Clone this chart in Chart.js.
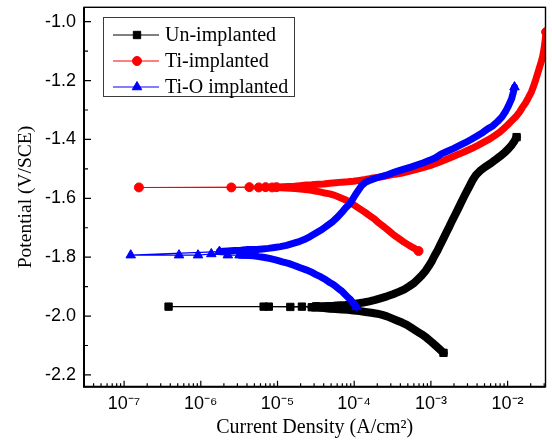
<!DOCTYPE html>
<html>
<head>
<meta charset="utf-8">
<script src="https://cdn.jsdelivr.net/npm/chart.js@4.4.1/dist/chart.umd.min.js"></script>
<style>
  html, body { margin: 0; padding: 0; background: #fff; }
  #wrap { width: 552px; height: 441px; }
</style>
</head>
<body>
<div id="wrap"><canvas id="tafel" width="552" height="441"></canvas></div>
<script>
'use strict';

// polarisation scans: current (A/cm2) vs potential (V/SCE),
// each list runs from the cathodic end, through Ecorr, to the anodic end
const unCurrent = [
  1.46e-3, 1.29e-3, 1.15e-3, 1.02e-3, 8.8e-4, 7.6e-4, 6.5e-4, 5.6e-4, 4.86e-4, 4.2e-4,
  3.6e-4, 3.1e-4, 2.68e-4, 2.32e-4, 2.0e-4, 1.67e-4, 1.4e-4, 1.17e-4, 9.8e-5, 8.2e-5,
  6.9e-5, 5.75e-5, 4.8e-5, 4.0e-5, 3.37e-5, 2.9e-5, 2.8e-5, 1.47e-5, 6.6e-6, 3.8e-7,
  7.7e-6, 2.08e-5, 3.18e-5, 3.8e-5, 4.5e-5, 5.4e-5, 6.5e-5, 7.7e-5, 9.2e-5, 1.1e-4,
  1.32e-4, 1.57e-4, 1.88e-4, 2.25e-4, 2.68e-4, 3.2e-4, 3.8e-4, 4.45e-4, 5.2e-4, 6.0e-4,
  6.7e-4, 7.6e-4, 8.5e-4, 9.3e-4, 1.02e-3, 1.11e-3, 1.22e-3, 1.33e-3, 1.46e-3, 1.59e-3,
  1.74e-3, 1.9e-3, 2.08e-3, 2.27e-3, 2.48e-3, 2.71e-3, 2.96e-3, 3.24e-3, 3.54e-3, 3.87e-3,
  4.36e-3, 5.06e-3, 5.87e-3, 6.8e-3, 7.9e-3, 9.2e-3, 1.03e-2, 1.13e-2, 1.23e-2, 1.31e-2
];
const unPotential = [
  -2.125, -2.112, -2.100, -2.088, -2.074, -2.062, -2.051, -2.040, -2.030, -2.022,
  -2.015, -2.008, -2.001, -1.996, -1.992, -1.989, -1.986, -1.983, -1.981, -1.979,
  -1.978, -1.976, -1.975, -1.973, -1.972, -1.971, -1.970, -1.969, -1.968, -1.968,
  -1.968, -1.968, -1.967, -1.967, -1.966, -1.965, -1.963, -1.962, -1.960, -1.957,
  -1.954, -1.950, -1.945, -1.939, -1.933, -1.926, -1.918, -1.910, -1.899, -1.888,
  -1.876, -1.862, -1.847, -1.832, -1.815, -1.796, -1.777, -1.757, -1.736, -1.716,
  -1.696, -1.675, -1.655, -1.635, -1.614, -1.594, -1.575, -1.555, -1.536, -1.521,
  -1.507, -1.494, -1.483, -1.471, -1.458, -1.444, -1.431, -1.419, -1.405, -1.392
];

const tiCurrent = [
  6.9e-4, 6.0e-4, 5.2e-4, 4.4e-4, 3.8e-4, 3.3e-4, 2.85e-4, 2.45e-4, 2.1e-4, 1.83e-4,
  1.57e-4, 1.36e-4, 1.17e-4, 1.0e-4, 8.7e-5, 7.5e-5, 6.5e-5, 5.6e-5, 4.8e-5, 4.15e-5,
  3.6e-5, 3.1e-5, 2.66e-5, 2.3e-5, 1.98e-5, 1.7e-5, 1.47e-5, 1.27e-5, 1.09e-5, 8.5e-6,
  5.7e-6, 2.5e-6, 1.56e-7, 4.3e-6, 7.0e-6, 9.7e-6, 1.16e-5, 1.39e-5, 1.66e-5, 1.98e-5,
  2.36e-5, 2.8e-5, 3.37e-5, 4.0e-5, 4.8e-5, 5.75e-5, 6.9e-5, 8.2e-5, 9.8e-5, 1.17e-4,
  1.4e-4, 1.67e-4, 2.0e-4, 2.39e-4, 2.85e-4, 3.4e-4, 4.07e-4, 4.86e-4, 5.8e-4, 6.9e-4,
  8.3e-4, 9.9e-4, 1.18e-3, 1.41e-3, 1.69e-3, 2.02e-3, 2.41e-3, 2.88e-3, 3.44e-3, 4.1e-3,
  4.9e-3, 5.87e-3, 6.8e-3, 7.9e-3, 8.9e-3, 1.0e-2, 1.13e-2, 1.27e-2, 1.43e-2, 1.56e-2,
  1.71e-2, 1.86e-2, 2.04e-2, 2.16e-2, 2.29e-2, 2.43e-2, 2.58e-2, 2.74e-2, 2.87e-2, 3.0e-2,
  3.09e-2, 3.18e-2
];
const tiPotential = [
  -1.779, -1.769, -1.760, -1.748, -1.736, -1.725, -1.711, -1.697, -1.684, -1.670,
  -1.658, -1.646, -1.635, -1.623, -1.612, -1.604, -1.597, -1.590, -1.585, -1.582,
  -1.578, -1.575, -1.572, -1.570, -1.568, -1.567, -1.566, -1.565, -1.564, -1.563,
  -1.563, -1.563, -1.563, -1.562, -1.562, -1.562, -1.561, -1.560, -1.559, -1.557,
  -1.555, -1.554, -1.552, -1.551, -1.549, -1.547, -1.545, -1.544, -1.542, -1.539,
  -1.536, -1.532, -1.529, -1.526, -1.522, -1.518, -1.515, -1.510, -1.505, -1.500,
  -1.494, -1.488, -1.481, -1.473, -1.465, -1.456, -1.448, -1.439, -1.430, -1.420,
  -1.409, -1.398, -1.387, -1.375, -1.363, -1.351, -1.337, -1.324, -1.307, -1.291,
  -1.276, -1.259, -1.239, -1.222, -1.203, -1.181, -1.159, -1.137, -1.117, -1.089,
  -1.062, -1.035
];

const tioCurrent = [
  1.07e-4, 9.8e-5, 9.0e-5, 8.2e-5, 7.5e-5, 6.9e-5, 6.1e-5, 5.4e-5, 4.8e-5, 4.27e-5,
  3.68e-5, 3.18e-5, 2.74e-5, 2.36e-5, 1.98e-5, 1.66e-5, 1.39e-5, 1.16e-5, 9.7e-6, 8.1e-6,
  6.8e-6, 5.7e-6, 4.9e-6, 4.2e-6, 3.2e-6, 2.25e-6, 1.37e-6, 9.2e-7, 5.2e-7, 1.22e-7,
  1.75e-6, 2.25e-6, 2.74e-6, 3.33e-6, 4.07e-6, 4.72e-6, 5.4e-6, 6.4e-6, 7.6e-6, 9.15e-6,
  1.09e-5, 1.31e-5, 1.56e-5, 1.86e-5, 2.23e-5, 2.66e-5, 3.18e-5, 3.8e-5, 4.5e-5, 5.26e-5,
  6.1e-5, 6.9e-5, 7.7e-5, 8.7e-5, 9.5e-5, 1.04e-4, 1.14e-4, 1.24e-4, 1.4e-4, 1.62e-4,
  1.94e-4, 2.32e-4, 2.77e-4, 3.3e-4, 3.95e-4, 4.7e-4, 5.6e-4, 6.7e-4, 8.0e-4, 9.6e-4,
  1.15e-3, 1.37e-3, 1.64e-3, 1.96e-3, 2.34e-3, 2.8e-3, 3.34e-3, 4.0e-3, 4.76e-3, 5.5e-3,
  6.4e-3, 7.4e-3, 8.4e-3, 9.4e-3, 1.03e-2, 1.13e-2, 1.19e-2, 1.23e-2
];
const tioPotential = [
  -1.969, -1.957, -1.945, -1.935, -1.925, -1.915, -1.905, -1.894, -1.886, -1.877,
  -1.867, -1.859, -1.850, -1.843, -1.836, -1.828, -1.821, -1.816, -1.810, -1.805,
  -1.801, -1.798, -1.795, -1.794, -1.793, -1.793, -1.789, -1.793, -1.793, -1.793,
  -1.781, -1.779, -1.777, -1.776, -1.774, -1.774, -1.774, -1.772, -1.770, -1.767,
  -1.764, -1.760, -1.754, -1.748, -1.740, -1.730, -1.718, -1.706, -1.692, -1.679,
  -1.663, -1.648, -1.633, -1.619, -1.604, -1.587, -1.572, -1.558, -1.546, -1.538,
  -1.531, -1.525, -1.519, -1.512, -1.505, -1.499, -1.493, -1.486, -1.479, -1.471,
  -1.462, -1.449, -1.440, -1.431, -1.421, -1.411, -1.400, -1.388, -1.376, -1.364,
  -1.354, -1.339, -1.324, -1.305, -1.285, -1.261, -1.239, -1.222
];

const seriesNames = ['Un-implanted', 'Ti-implanted', 'Ti-O implanted'];

const xMajorTicks = [1e-7, 1e-6, 1e-5, 1e-4, 1e-3, 1e-2];
const xMajorLabels = ['10\u207B\u2077', '10\u207B\u2076', '10\u207B\u2075', '10\u207B\u2074', '10\u207B\u00B3', '10\u207B\u00B2'];
const yTickValues = [-2.2, -2.1, -2.0, -1.9, -1.8, -1.7, -1.6, -1.5, -1.4, -1.3, -1.2, -1.1, -1.0];
const yTickLabels = ['-2.2', '', '-2.0', '', '-1.8', '', '-1.6', '', '-1.4', '', '-1.2', '', '-1.0'];

const X_MIN = 3.27e-8, X_MAX = 3.12e-2;
const Y_MIN = -2.24, Y_MAX = -0.951;
const CROWD = 10; // px: closer than this, neighbouring markers melt into a band

const SERIF = "'Liberation Serif', 'Times New Roman', serif";
const SANS = "'Liberation Sans', Arial, sans-serif";

// minor ticks 2..9 in every decade, plus the labelled powers of ten
const xTickValues = [];
for (let k = -8; k <= -2; k++) {
  for (let m = 1; m <= 9; m++) {
    const v = Number((m * Math.pow(10, k)).toPrecision(3));
    if (v >= X_MIN && v <= X_MAX) xTickValues.push(m === 1 ? xMajorTicks[xMajorTicks.indexOf(v)] : v);
  }
}

function pairs(cur, pot) {
  return cur.map((c, i) => ({ x: c, y: pot[i] }));
}

// pixel distance between two points of a dataset, through the chart's scales
function gap(chart, data, i, j) {
  if (j < 0 || j >= data.length) return Infinity;
  const { x, y } = chart.scales;
  return Math.hypot(x.getPixelForValue(data[j].x) - x.getPixelForValue(data[i].x),
                    y.getPixelForValue(data[j].y) - y.getPixelForValue(data[i].y));
}

// the original scan has a marker every few mV, so where they crowd together
// they merge into a solid band; a fat segment stands in for that
function series(label, cur, pot, color, style, radius, band, order) {
  return {
    label,
    data: pairs(cur, pot),
    markerRadius: radius,
    showLine: true,
    borderColor: color,
    borderWidth: 1.1,
    borderJoinStyle: 'round',
    borderCapStyle: 'round',
    backgroundColor: color,
    pointBackgroundColor: color,
    pointBorderColor: color,
    pointBorderWidth: 1,
    pointStyle: style,
    pointRadius: ctx => {
      const i = ctx.dataIndex;
      if (i === undefined) return radius;
      const d = ctx.dataset.data;
      return gap(ctx.chart, d, i, i - 1) < CROWD && gap(ctx.chart, d, i, i + 1) < CROWD ? 0 : radius;
    },
    tension: 0,
    segment: {
      borderWidth: ctx => Math.hypot(ctx.p1.x - ctx.p0.x, ctx.p1.y - ctx.p0.y) < CROWD ? band : 1.1
    },
    order
  };
}

// ticks point into the plot, frame all round
const frameTicks = {
  id: 'frameTicks',
  afterDraw(chart) {
    const { ctx, chartArea: a, scales: { x, y } } = chart;
    ctx.save();
    ctx.strokeStyle = '#000';
    ctx.lineWidth = 1.2;
    ctx.beginPath();
    x.ticks.forEach(t => {
      const px = x.getPixelForValue(t.value);
      const len = xMajorTicks.includes(t.value) ? 6 : 3.5;
      ctx.moveTo(px, a.bottom);
      ctx.lineTo(px, a.bottom - len);
    });
    y.ticks.forEach((t, i) => {
      const py = y.getPixelForValue(t.value);
      const len = yTickLabels[i] ? 7 : 4;
      ctx.moveTo(a.left, py);
      ctx.lineTo(a.left + len, py);
    });
    ctx.stroke();
    ctx.lineWidth = 1.4;
    ctx.strokeRect(a.left, a.top, a.right - a.left, a.bottom - a.top);
    ctx.lineWidth = 2;
    ctx.beginPath();
    ctx.moveTo(a.left, a.top);
    ctx.lineTo(a.left, a.bottom);
    ctx.lineTo(a.right, a.bottom);
    ctx.stroke();
    ctx.restore();
  }
};

const boxLegend = {
  id: 'boxLegend',
  afterDraw(chart) {
    const ctx = chart.ctx;
    ctx.save();
    ctx.fillStyle = '#fff';
    ctx.fillRect(103.5, 17.5, 191, 79);
    ctx.strokeStyle = '#3a3a3a';
    ctx.lineWidth = 1;
    ctx.strokeRect(103.5, 17.5, 191, 79);
    chart.data.datasets.forEach((ds, i) => {
      const cy = 35 + i * 26;
      ctx.strokeStyle = ds.borderColor;
      ctx.lineWidth = 1;
      ctx.beginPath();
      ctx.moveTo(113, cy);
      ctx.lineTo(159, cy);
      ctx.stroke();
      ctx.fillStyle = ds.pointBackgroundColor;
      Chart.helpers.drawPoint(ctx, {
        pointStyle: ds.pointStyle, radius: ds.markerRadius, rotation: 0, borderWidth: 1
      }, 137, cy);
      ctx.fillStyle = '#000';
      ctx.font = '20px ' + SERIF;
      ctx.textBaseline = 'middle';
      ctx.textAlign = 'left';
      ctx.fillText(ds.label, 165, cy + 1);
    });
    ctx.restore();
  }
};

new Chart(document.getElementById('tafel'), {
  type: 'scatter',
  data: {
    datasets: [
      series(seriesNames[0], unCurrent, unPotential, '#000000', 'rect', 5.2, 8, 3),
      series(seriesNames[1], tiCurrent, tiPotential, '#ff0000', 'circle', 4.5, 7, 2),
      series(seriesNames[2], tioCurrent, tioPotential, '#0000ff', 'triangle', 5.5, 7, 1)
    ]
  },
  options: {
    responsive: false,
    animation: false,
    devicePixelRatio: 1,
    layout: { padding: { top: 7.3, right: 3.7, left: 0, bottom: 0 } },
    plugins: {
      legend: { display: false },
      tooltip: { enabled: false }
    },
    scales: {
      x: {
        type: 'logarithmic',
        min: X_MIN,
        max: X_MAX,
        afterBuildTicks: s => { s.ticks = xTickValues.map(v => ({ value: v })); },
        afterFit: s => { s.height = 54.3; s.paddingLeft = 0; s.paddingRight = 0; },
        grid: { display: false, drawTicks: false },
        border: { display: false },
        ticks: {
          autoSkip: false,
          maxRotation: 0,
          padding: 7,
          color: '#000',
          font: { family: SANS, size: 18 },
          callback: v => {
            const k = xMajorTicks.indexOf(v);
            return k >= 0 ? xMajorLabels[k] : '';
          }
        },
        title: {
          display: true,
          text: 'Current Density (A/cm\u00B2)',
          color: '#000',
          font: { family: SERIF, size: 20, lineHeight: 1.2 },
          padding: { top: 0, bottom: 1.5 }
        }
      },
      y: {
        type: 'linear',
        min: Y_MIN,
        max: Y_MAX,
        afterBuildTicks: s => { s.ticks = yTickValues.map(v => ({ value: v })); },
        afterFit: s => { s.width = 84; s.paddingTop = 0; s.paddingBottom = 0; },
        grid: { display: false, drawTicks: false },
        border: { display: false },
        ticks: {
          autoSkip: false,
          padding: 8,
          color: '#000',
          font: { family: SANS, size: 18 },
          callback: (v, i) => yTickLabels[i]
        },
        title: {
          display: true,
          text: 'Potential (V/SCE)',
          color: '#000',
          font: { family: SERIF, size: 19.5, lineHeight: 1.2 },
          padding: { top: 14, bottom: 0 }
        }
      }
    }
  },
  plugins: [frameTicks, boxLegend]
});
</script>
</body>
</html>
